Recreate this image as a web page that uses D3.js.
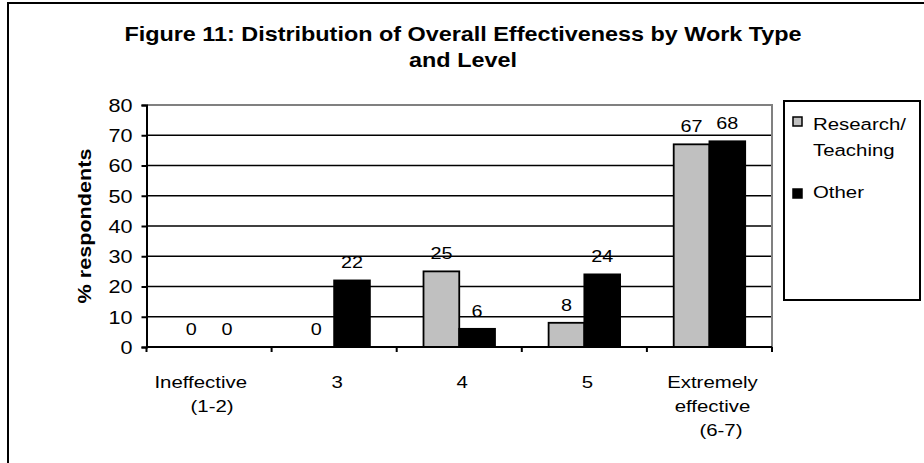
<!DOCTYPE html>
<html>
<head>
<meta charset="utf-8">
<script src="https://cdn.jsdelivr.net/npm/d3@7"></script>
<style>
  html, body { margin: 0; padding: 0; background: #fff; }
  svg { display: block; font-family: Arial, "Liberation Sans", sans-serif; }
  text { white-space: pre; }
</style>
</head>
<body>
<svg id="chart" width="924" height="463"></svg>
<script>
// Survey results: share of respondents per effectiveness rating
const categories = ["Ineffective    |(1-2)", "3", "4", "5", "Extremely|effective|   (6-7)"];
const seriesNames = ["Research/|Teaching", "Other"];
const researchTeaching = [0, 0, 25, 8, 67];
const other = [0, 22, 6, 24, 68];
const yTicks = [0, 10, 20, 30, 40, 50, 60, 70, 80];
const titleLines = ["Figure 11: Distribution of Overall Effectiveness by Work Type", "and Level"];
const yTitle = "% respondents";

const svg = d3.select("#chart");
const W = 924, H = 463;
const sx = 1.2; // horizontal text widening

// outer frame (runs off the right and bottom edges)
svg.append("rect")
  .attr("x", 8).attr("y", 3).attr("width", W + 20).attr("height", H + 20)
  .attr("fill", "#fff").attr("stroke", "#000").attr("stroke-width", 2);

const plot = { left: 146.5, right: 772, top: 105, bottom: 347 };

const x0 = d3.scaleBand().domain(categories).range([plot.left, plot.right]).paddingInner(0).paddingOuter(0);
const x1 = d3.scaleBand().domain(seriesNames).range([0, x0.bandwidth()]).paddingInner(0).paddingOuter(0.75);
const y = d3.scaleLinear().domain([0, 80]).range([plot.bottom, plot.top]);

function stretchedText(g, x, yy, str, size, weight, anchor) {
  return g.append("text")
    .attr("transform", `translate(${x},${yy}) scale(${sx},1)`)
    .attr("text-anchor", anchor || "middle")
    .attr("font-size", size)
    .attr("font-weight", weight || "normal")
    .attr("fill", "#000")
    .text(str);
}

// title
titleLines.forEach((t, i) => stretchedText(svg, 463, 41 + i * 26, t, 19.5, "bold"));

// gridlines
svg.append("g").selectAll("line")
  .data(yTicks.filter(d => d > 0 && d < 80))
  .join("line")
  .attr("x1", plot.left).attr("x2", plot.right)
  .attr("y1", d => y(d)).attr("y2", d => y(d))
  .attr("stroke", "#000").attr("stroke-width", 1.5);

// plot area border (top and right) in gray
svg.append("path")
  .attr("d", `M${plot.left},${y(80)}H${plot.right}V${plot.bottom}`)
  .attr("fill", "none").attr("stroke", "#808080").attr("stroke-width", 2);

// bars
const values = [researchTeaching, other];
const fills = ["#c0c0c0", "#000"];
const barG = svg.append("g");
seriesNames.forEach((s, si) => {
  barG.selectAll(null)
    .data(categories.map((c, ci) => ({ c, v: values[si][ci] })))
    .join("rect")
    .filter(d => d.v > 0)
    .attr("x", d => x0(d.c) + x1(s))
    .attr("y", d => y(d.v))
    .attr("width", x1.bandwidth())
    .attr("height", d => y(0) - y(d.v))
    .attr("fill", fills[si])
    .attr("stroke", "#000").attr("stroke-width", 1.8);
});

// value labels
seriesNames.forEach((s, si) => {
  categories.forEach((c, ci) => {
    const v = values[si][ci];
    stretchedText(svg, x0(c) + x1(s) + x1.bandwidth() / 2, y(v) - 12, String(v), 16.5);
  });
});

// y axis
const yAxis = d3.axisLeft(y).tickValues(yTicks).tickSize(5).tickPadding(6);
const yg = svg.append("g").attr("transform", `translate(${plot.left},0)`).call(yAxis);
yg.select(".domain").attr("stroke", "#000").attr("stroke-width", 2);
yg.selectAll(".tick line").attr("stroke", "#000").attr("stroke-width", 2);
yg.selectAll(".tick text")
  .attr("font-size", 18).attr("font-family", "Arial, 'Liberation Sans', sans-serif")
  .attr("fill", "#000")
  .attr("transform", `scale(${sx},1)`)
  .attr("x", -14 / sx)
  .attr("dy", "0.35em");

// x axis with ticks at category boundaries
svg.append("line")
  .attr("x1", plot.left).attr("x2", plot.right)
  .attr("y1", plot.bottom).attr("y2", plot.bottom)
  .attr("stroke", "#000").attr("stroke-width", 2);
const bounds = categories.map(c => x0(c)).concat([plot.right]);
svg.append("g").selectAll("line").data(bounds).join("line")
  .attr("x1", d => d).attr("x2", d => d)
  .attr("y1", plot.bottom).attr("y2", plot.bottom + 5)
  .attr("stroke", "#000").attr("stroke-width", 2);

// category labels
categories.forEach(c => {
  const cx = x0(c) + x0.bandwidth() / 2 + 3;
  c.split("|").forEach((line, li) => {
    stretchedText(svg, cx, 388 + li * 24, line, 17);
  });
});

// y axis title
svg.append("text")
  .attr("transform", `translate(91,226) rotate(-90) scale(${sx},1)`)
  .attr("text-anchor", "middle")
  .attr("font-size", 18).attr("font-weight", "bold")
  .text(yTitle);

// legend
const lg = svg.append("g");
lg.append("rect").attr("x", 784).attr("y", 101).attr("width", 136).attr("height", 199)
  .attr("fill", "#fff").attr("stroke", "#000").attr("stroke-width", 2);
const legendSwatchY = [117, 189];
const legendTextY = [130, 198];
seriesNames.forEach((s, si) => {
  lg.append("rect").attr("x", 793).attr("y", legendSwatchY[si]).attr("width", 9).attr("height", 9)
    .attr("fill", fills[si]).attr("stroke", "#000").attr("stroke-width", 1.5);
  s.split("|").forEach((line, li) => {
    stretchedText(lg, 813, legendTextY[si] + li * 26, line, 17, "normal", "start");
  });
});
</script>
</body>
</html>
